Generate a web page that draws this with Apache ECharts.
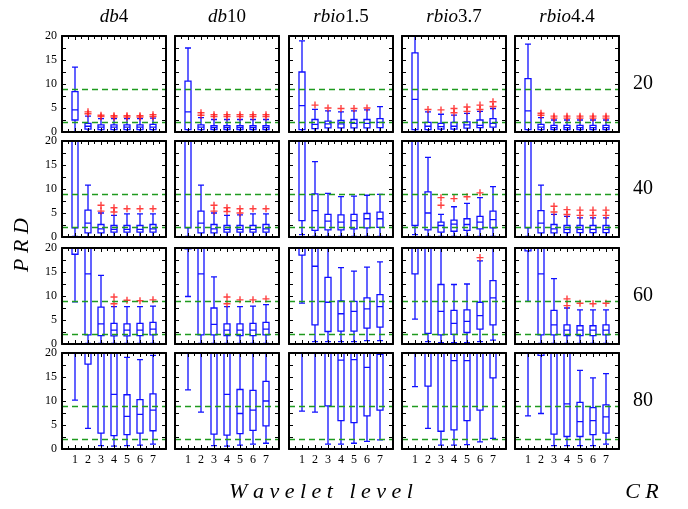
<!DOCTYPE html>
<html>
<head>
<meta charset="utf-8">
<script src="https://cdn.jsdelivr.net/npm/echarts@6/dist/echarts.min.js"></script>
<style>html,body{margin:0;padding:0;background:#fff}#chart{width:688px;height:509px}</style>
</head>
<body>
<div id="chart"></div>
<script>
'use strict';

var wavelets = [['db', '4'], ['db', '10'], ['rbio', '1.5'], ['rbio', '3.7'], ['rbio', '4.4']];
var crLabels = ['20', '40', '60', '80'];
var levels = [1, 2, 3, 4, 5, 6, 7];
var prdLimits = [9, 2];
var yMax = 20;

// box stats per wavelet, per level: [min, Q1, median, Q3, max]
var boxCR20 = [
  [[0,2.5,4.6,8.4,13.5],[0,0.6,1.2,1.8,3.3],[0,0.5,1.0,1.5,2.8],[0,0.5,1.0,1.5,2.8],[0,0.5,1.0,1.5,2.8],[0,0.5,1.0,1.5,2.8],[0,0.5,1.0,1.6,2.9]],
  [[0,0.5,4.2,10.6,17.5],[0,0.5,1.0,1.5,3.0],[0,0.5,0.9,1.3,2.6],[0,0.5,0.9,1.3,2.6],[0,0.5,0.9,1.3,2.6],[0,0.5,0.9,1.3,2.6],[0,0.5,0.9,1.3,2.6]],
  [[0,0.5,5.5,12.5,19],[0,0.7,1.6,2.6,4.7],[0,0.85,1.7,2.25,4.4],[0,0.85,1.7,2.4,4.2],[0,0.85,1.8,2.6,4.4],[0,0.85,1.8,2.6,4.6],[0,0.9,2.0,2.8,5.3]],
  [[0,0.5,6.8,16.5,22],[0,0.5,1.2,2.0,4.2],[0,0.6,1.1,1.8,3.7],[0,0.6,1.2,2.0,3.5],[0,0.8,1.5,2.1,3.9],[0,0.9,1.4,2.5,4.3],[0,1.0,1.8,2.8,4.9]],
  [[0,0.5,4.4,11.1,18.3],[0,0.5,1.0,1.6,3.0],[0,0.5,0.9,1.4,2.5],[0,0.5,0.9,1.4,2.5],[0,0.5,0.9,1.4,2.5],[0,0.5,0.9,1.4,2.5],[0,0.5,0.9,1.4,2.5]]
];
var outCR20 = [
  [[],[4.2,3.8],[3.5,3.2],[3.4,3.1],[3.4,3.1],[3.4,3.1],[3.6,3.2]],
  [[],[4.0,3.5],[3.6,3.2],[3.6,3.2],[3.6,3.2],[3.6,3.2],[3.6,3.2]],
  [[],[5.6],[5.0],[4.9],[4.9],[5.0],[]],
  [[],[4.7],[4.6],[4.9,4.0],[5.2,4.3],[5.6,4.7],[6.3,5.3]],
  [[],[3.9,3.5],[3.3,2.9],[3.3,2.9],[3.3,2.9],[3.3,2.9],[3.3,2.9]]
];

var boxCR40 = [
  [[0.1,1.9,24,32,40],[0,0.85,2.9,5.6,10.8],[0,0.85,1.7,2.6,5.0],[0,1.0,1.6,2.4,4.5],[0,1.0,1.6,2.4,4.8],[0,1.0,1.6,2.4,4.8],[0,1.0,1.7,2.6,4.8]],
  [[0.1,1.9,24,32,40],[0,0.85,2.9,5.4,10.8],[0,0.85,1.7,2.6,5.0],[0,1.0,1.6,2.4,4.5],[0,1.0,1.6,2.4,4.6],[0,1.0,1.6,2.4,4.8],[0,1.0,1.7,2.6,4.8]],
  [[0.5,3.4,25,35,45],[0.1,1.4,5.5,9.0,15.7],[0.1,1.5,3.3,4.7,9.1],[0.1,1.5,3.1,4.6,8.4],[0.1,1.7,3.4,4.7,8.5],[0.1,1.9,3.8,4.9,8.7],[0.1,2.0,3.8,5.2,8.9]],
  [[0.5,2.4,24,33,42],[0.1,1.5,5.0,9.4,16.6],[0.1,1.0,2.4,3.1,4.7],[0.1,1.2,2.7,3.5,6.3],[0.1,1.4,2.6,3.8,7.0],[0.1,1.7,3.1,4.3,8.2],[0.1,1.9,3.6,5.4,10.5]],
  [[0.1,1.9,24,32,40],[0,0.85,2.9,5.5,10.8],[0,0.85,1.7,2.6,4.7],[0,0.9,1.6,2.4,4.3],[0,0.9,1.6,2.4,4.0],[0,0.9,1.6,2.4,4.0],[0,0.9,1.6,2.4,4.0]]
];
var outCR40 = [
  [[],[],[6.6,5.4],[6.1,5.2],[5.9],[5.9],[5.9]],
  [[],[],[6.6,5.4],[6.1,5.3],[5.9,5.0],[5.9],[5.9]],
  [[],[],[],[],[],[],[]],
  [[],[],[8.2,6.6],[8.0],[8.4],[9.2],[]],
  [[],[],[6.4,5.2],[5.7,4.7],[5.6,4.5],[5.6,4.5],[5.6,4.5]]
];

var boxCR60 = [
  [[8.8,18.7,24,30,40],[0.1,1.9,14.6,24,35],[0.1,1.75,4.2,7.7,14.3],[0.1,1.7,2.9,4.3,7.8],[0.1,1.7,2.9,4.2,7.8],[0.1,1.75,2.9,4.3,7.8],[0.1,1.9,3.1,4.5,7.9]],
  [[9.9,19.8,25,30,40],[0.1,1.9,14.6,24,35],[0.1,1.9,4.1,7.5,14.0],[0.1,1.75,2.9,4.2,7.8],[0.1,1.75,2.9,4.2,7.8],[0.1,1.75,2.9,4.3,7.9],[0.1,1.9,3.1,4.5,8.2]],
  [[8.5,18.5,25,30,40],[0.5,4.0,16.2,24,35],[0.5,2.6,8.7,13.9,22],[0.5,2.7,6.3,9.0,15.9],[0.5,2.7,6.8,8.9,15.2],[0.7,3.3,7.3,9.6,16.0],[0.7,3.5,7.8,10.3,17.1]],
  [[5.2,14.6,22,28,35],[0.5,2.2,21,28,35],[0.3,1.9,6.8,12.4,22],[0.3,2.0,4.3,7.0,12.4],[0.3,2.4,4.7,7.1,12.5],[0.5,3.1,5.9,8.7,17.3],[0.8,4.0,9.6,13.2,22]],
  [[8.9,19.4,25,30,40],[0.1,1.9,14.6,24,35],[0.1,1.9,4.0,7.0,13.6],[0.1,1.75,2.9,4.0,7.5],[0.1,1.75,2.9,3.8,7.1],[0.1,1.75,2.9,3.8,7.1],[0.1,1.9,2.9,4.0,7.1]]
];
var outCR60 = [
  [[],[],[],[9.8,8.4],[9.1],[9.0],[9.2]],
  [[],[],[],[9.8,8.4],[9.2],[9.2],[9.4]],
  [[],[],[],[],[],[],[]],
  [[],[],[],[],[],[18.0],[]],
  [[],[],[],[9.4,8.0],[8.5],[8.4],[8.5]]
];

var boxCR80 = [
  [[10.2,25,30,35,40],[4.3,17.7,25,30,40],[0.7,3.3,22,28,35],[0.6,2.8,11.4,22,30],[0.7,3.0,6.8,11.3,19.1],[0.8,3.3,7.2,10.3,18.6],[1.0,3.8,8.1,11.5,19.5]],
  [[12.3,25,30,35,40],[7.7,25,30,35,40],[0.7,3.1,22,28,35],[0.6,2.9,11.4,22,30],[0.8,3.2,7.4,12.4,22],[1.0,3.9,8.1,12.2,22],[1.2,4.8,10.0,14.1,22]],
  [[7.9,25,30,35,40],[7.7,25,30,35,40],[1.0,9.0,22,28,35],[1.0,5.9,18.5,24,30],[1.2,5.5,18.6,24,30],[1.6,6.9,17.0,22,30],[1.9,8.1,19.7,24,30]],
  [[13.0,25,30,35,40],[4.3,13.1,22,28,35],[0.8,3.7,22,28,35],[0.8,4.0,18.4,24,30],[0.9,5.9,18.4,24,30],[1.5,8.1,22,28,35],[2.2,14.8,22,28,35]],
  [[6.9,25,30,35,40],[7.4,19.5,25,30,40],[0.7,3.1,22,28,35],[0.7,2.6,9.4,22,30],[0.7,2.6,5.7,9.7,16.4],[0.7,3.0,5.9,8.6,14.8],[1.0,3.3,6.7,9.2,15.7]]
];
var outCR80 = [
  [[],[],[],[],[],[],[]],
  [[],[],[],[],[],[],[]],
  [[],[],[],[],[],[],[]],
  [[],[],[],[],[],[],[]],
  [[],[],[],[],[],[],[]]
];

var boxRows = [boxCR20, boxCR40, boxCR60, boxCR80];
var outRows = [outCR20, outCR40, outCR60, outCR80];

var font = 'Liberation Serif';
var colLeft = [62, 175, 289, 402, 515];
var rowTop = [36, 141, 248, 353];
var panelW = 104, panelH = 96;
var plusPath = 'path://M4,0H6V4H10V6H6V10H4V6H0V4H4Z';
var limitStyle = {color: '#1f9a1f', type: [6, 4], width: 1.4};

function clampY(v) { return Math.min(v, yMax); }

function xAxis(g, pos, labels) {
  return {
    type: 'value', gridIndex: g, position: pos, min: 0, max: 8, interval: 1, z: 5,
    axisLine: {show: true, onZero: false, lineStyle: {color: '#000', width: 2}},
    axisTick: {show: true, inside: true, length: 4, lineStyle: {color: '#000', width: 1}},
    minorTick: {show: true, splitNumber: 2, length: 3, lineStyle: {color: '#000', width: 1}},
    splitLine: {show: false},
    axisLabel: {
      show: labels, margin: 5, color: '#000', fontFamily: font, fontSize: 12,
      formatter: function (v) { return (v >= 1 && v <= 7) ? String(v) : ''; }
    }
  };
}

function yAxis(g, pos, labels) {
  return {
    type: 'value', gridIndex: g, position: pos, min: 0, max: yMax, interval: 5, z: 5,
    axisLine: {show: true, onZero: false, lineStyle: {color: '#000', width: 2}},
    axisTick: {show: true, inside: true, length: 4, lineStyle: {color: '#000', width: 1}},
    minorTick: {show: true, splitNumber: 2, length: 4, lineStyle: {color: '#000', width: 1}},
    splitLine: {show: false},
    axisLabel: {show: labels, margin: 5, color: '#000', fontFamily: font, fontSize: 12}
  };
}

var grids = [], xAxes = [], yAxes = [], series = [], texts = [];

for (var r = 0; r < 4; r++) {
  for (var c = 0; c < 5; c++) {
    var g = r * 5 + c;
    grids.push({left: colLeft[c], top: rowTop[r], width: panelW, height: panelH});
    xAxes.push(xAxis(g, 'bottom', r === 3));
    xAxes.push(xAxis(g, 'top', false));
    yAxes.push(yAxis(g, 'left', c === 0));
    yAxes.push(yAxis(g, 'right', false));

    var stats = boxRows[r][c];
    var outs = outRows[r][c];
    var boxData = levels.map(function (lv, i) {
      return [lv].concat(stats[i].map(clampY));
    });
    var outData = [];
    levels.forEach(function (lv, i) {
      outs[i].forEach(function (v) { outData.push([lv, v]); });
    });

    series.push({
      type: 'boxplot', xAxisIndex: 2 * g, yAxisIndex: 2 * g,
      boxWidth: [6, 6], data: boxData, silent: true,
      itemStyle: {color: 'transparent', borderColor: '#1010ff', borderWidth: 1.3}
    });
    series.push({
      type: 'scatter', xAxisIndex: 2 * g, yAxisIndex: 2 * g,
      symbol: plusPath, symbolSize: 7, data: outData, silent: true,
      itemStyle: {color: '#ff1010'},
      markLine: {
        silent: true, symbol: 'none', label: {show: false},
        lineStyle: limitStyle,
        data: prdLimits.map(function (v) { return {yAxis: v, lineStyle: limitStyle}; })
      }
    });
  }
}

wavelets.forEach(function (w, c) {
  texts.push({
    type: 'text', x: colLeft[c] + panelW / 2, y: 17,
    style: {
      text: '{i|' + w[0] + '}{n|' + w[1] + '}', align: 'center', verticalAlign: 'middle',
      rich: {
        i: {fontFamily: font, fontStyle: 'italic', fontSize: 19, fill: '#000'},
        n: {fontFamily: font, fontSize: 19, fill: '#000'}
      }
    }
  });
});

crLabels.forEach(function (t, r) {
  texts.push({
    type: 'text', x: 643, y: rowTop[r] + panelH / 2,
    style: {text: t, align: 'center', verticalAlign: 'middle', fontFamily: font, fontSize: 20, fill: '#000'}
  });
});

texts.push({
  type: 'text', x: 22, y: 245, rotation: Math.PI / 2,
  style: {text: 'P R D', align: 'center', verticalAlign: 'middle', fontFamily: font, fontStyle: 'italic', fontSize: 22, fill: '#000'}
});
texts.push({
  type: 'text', x: 321, y: 492,
  style: {text: 'W a v e l e t   l e v e l', align: 'center', verticalAlign: 'middle', fontFamily: font, fontStyle: 'italic', fontSize: 22, fill: '#000'}
});
texts.push({
  type: 'text', x: 642, y: 492,
  style: {text: 'C R', align: 'center', verticalAlign: 'middle', fontFamily: font, fontStyle: 'italic', fontSize: 22, fill: '#000'}
});

var chart = echarts.init(document.getElementById('chart'));
chart.setOption({
  backgroundColor: '#fff',
  animation: false,
  grid: grids,
  xAxis: xAxes,
  yAxis: yAxes,
  series: series,
  graphic: texts
});
</script>
</body>
</html>
